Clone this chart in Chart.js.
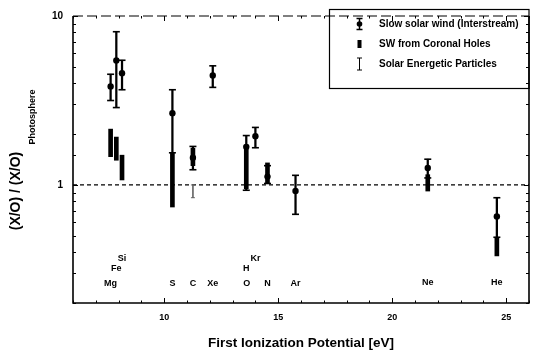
<!DOCTYPE html>
<html><head><meta charset="utf-8">
<script src="https://cdn.jsdelivr.net/npm/chart.js@4.4.0/dist/chart.umd.min.js"></script>
<style>html,body{margin:0;padding:0;background:#fff;}canvas{display:block;}</style>
</head><body>
<canvas id="c" width="541" height="353"></canvas>
<script>
// ---- data ----
const elements   = ['Mg','Fe','Si','S','C','Xe','H','O','Kr','N','Ar','Ne','He'];
const fip        = [7.65,7.90,8.15,10.36,11.26,12.13,13.60,13.62,14.00,14.53,15.76,21.56,24.59];
const labelLevel = [0.262,0.318,0.368,0.262,0.262,0.262,0.318,0.262,0.368,0.262,0.262,0.265,0.265];

const slowEl  = ['Mg','Fe','Si','S','C','Xe','H','Kr','N','Ar','Ne','He'];
const slowVal = [3.83,5.45,4.58,2.66,1.45,4.44,1.68,1.94,1.12,0.92,1.26,0.65];
const slowLo  = [3.16,2.87,3.66,1.55,1.23,3.78,0.93,1.66,1.02,0.67,1.10,0.49];
const slowHi  = [4.52,8.07,5.47,3.66,1.69,5.07,1.96,2.19,1.30,1.14,1.42,0.84];

const holeEl = ['Mg','Fe','Si','S','C','H','N','Ne','He'];
const holeLo = [1.47,1.40,1.07,0.74,1.30,0.95,1.02,0.92,0.38];
const holeHi = [2.14,1.92,1.50,1.55,1.65,1.72,1.35,1.15,0.49];

const sepEl = ['C'];
const sepLo = [0.84];
const sepHi = [1.00];

const xTickLabels = [10,15,20,25];
const yTickLabels = [1,10];
const refValue = 1;
const legendLabels = ['Slow solar wind (Interstream)','SW from Coronal Holes','Solar Energetic Particles'];
const xTitle = 'First Ionization Potential [eV]';
const yTitleMain = '(X/O) / (X/O)';
const yTitleSub = 'Photosphere';

// ---- build ----
const FONT = "'Liberation Sans', Arial, Helvetica, sans-serif";
const fipOf = e => fip[elements.indexOf(e)];
const XMIN = 6, XMAX = 26, YMIN = 0.2, YMAX = 10;

const slowPts  = slowEl.map((e,i)=>({x:fipOf(e), y:slowVal[i]}));
const slowBars = slowEl.map((e,i)=>({x:fipOf(e), y:[slowLo[i], slowHi[i]]}));
const slowCaps = slowEl.flatMap((e,i)=>[{x:fipOf(e), y:slowLo[i]},{x:fipOf(e), y:slowHi[i]}]);
const holeBars = holeEl.map((e,i)=>({x:fipOf(e), y:[holeLo[i], holeHi[i]]}));
const sepBars  = sepEl.map((e,i)=>({x:fipOf(e), y:[sepLo[i], sepHi[i]]}));
const sepCaps  = sepEl.flatMap((e,i)=>[{x:fipOf(e), y:sepLo[i]},{x:fipOf(e), y:sepHi[i]}]);

const near = (v, arr) => arr.some(a => Math.abs(v - a) < 1e-6 * Math.max(1, a));

const decor = {
  id: 'decor',
  afterDatasetsDraw(chart) {
    const {ctx, chartArea: a, scales: {x, y}} = chart;
    const line = (x1,y1,x2,y2)=>{ctx.beginPath();ctx.moveTo(x1,y1);ctx.lineTo(x2,y2);ctx.stroke();};
    ctx.save();
    ctx.strokeStyle = '#000'; ctx.fillStyle = '#000';
    // frame
    ctx.lineWidth = 1.6;
    ctx.beginPath();
    ctx.moveTo(a.left, a.top); ctx.lineTo(a.left, a.bottom); ctx.lineTo(a.right, a.bottom); ctx.lineTo(a.right, a.top);
    ctx.stroke();
    ctx.lineWidth = 1.2; ctx.setLineDash([10,4]);
    line(a.left, a.top, a.right, a.top);
    ctx.setLineDash([]);
    // inward ticks
    ctx.lineWidth = 1;
    x.ticks.forEach(t => {
      const px = Math.round(x.getPixelForValue(t.value)) + 0.5;
      const len = (t.value % 5 === 0) ? 5 : 2.5;
      line(px, a.bottom, px, a.bottom - len);
      line(px, a.top, px, a.top + len);
    });
    y.ticks.forEach(t => {
      const py = Math.round(y.getPixelForValue(t.value)) + 0.5;
      const len = near(t.value, yTickLabels) ? 5 : 3;
      line(a.left, py, a.left + len, py);
      line(a.right, py, a.right - len, py);
    });
    // element labels
    ctx.font = `bold 9px ${FONT}`;
    ctx.textAlign = 'center'; ctx.textBaseline = 'middle';
    elements.forEach((e,i) => {
      ctx.fillText(e, x.getPixelForValue(fip[i]), y.getPixelForValue(labelLevel[i]));
    });
    // legend
    const lx = 329.5, ly = 9.5, lw = a.right - lx, lh = 79;
    ctx.lineWidth = 1.2;
    ctx.strokeRect(lx, ly, lw, lh);
    const sx = 359.5, rows = [24, 44, 64];
    // row 1: point with error bar
    ctx.lineWidth = 1.5;
    line(sx, rows[0]-5.5, sx, rows[0]+5.5);
    line(sx-3, rows[0]-5.5, sx+3, rows[0]-5.5);
    line(sx-3, rows[0]+5.5, sx+3, rows[0]+5.5);
    ctx.beginPath(); ctx.arc(sx, rows[0], 2.8, 0, Math.PI*2); ctx.fill();
    // row 2: thick bar
    ctx.fillRect(sx-2, rows[1]-4, 4, 8);
    // row 3: I-bar
    ctx.lineWidth = 1;
    line(sx, rows[2]-6, sx, rows[2]+6);
    line(sx-2.5, rows[2]-6, sx+2.5, rows[2]-6);
    line(sx-2.5, rows[2]+6, sx+2.5, rows[2]+6);
    ctx.font = `bold 10px ${FONT}`;
    ctx.textAlign = 'left'; ctx.textBaseline = 'middle';
    legendLabels.forEach((t,i) => ctx.fillText(t, 379, rows[i]));
    // y title
    ctx.save();
    ctx.translate(16, 191);
    ctx.rotate(-Math.PI/2);
    ctx.font = `bold 14px ${FONT}`;
    ctx.textAlign = 'center'; ctx.textBaseline = 'middle';
    ctx.fillText(yTitleMain, 0, 0);
    ctx.restore();
    ctx.save();
    ctx.translate(33, 117);
    ctx.rotate(-Math.PI/2);
    ctx.font = `bold 9px ${FONT}`;
    ctx.textAlign = 'center'; ctx.textBaseline = 'middle';
    ctx.fillText(yTitleSub, 0, 0);
    ctx.restore();
    ctx.restore();
  }
};

new Chart(document.getElementById('c'), {
  type: 'bar',
  data: {
    datasets: [
      { type: 'line', data: [{x:XMIN,y:refValue},{x:XMAX,y:refValue}], borderColor:'#000', borderWidth:1.2,
        borderDash:[4,3], pointRadius:0, order: 10 },
      { type: 'bar', data: holeBars, backgroundColor:'#000', barThickness:4, grouped:false, order: 5 },
      { type: 'bar', data: slowBars, backgroundColor:'#000', barThickness:1.6, grouped:false, order: 4 },
      { type: 'bar', data: sepBars, backgroundColor:'#666', barThickness:1, grouped:false, order: 4 },
      { type: 'scatter', data: slowCaps, pointStyle:'line', pointRadius:3.5, borderColor:'#000', borderWidth:1.6, order: 3 },
      { type: 'scatter', data: sepCaps, pointStyle:'line', pointRadius:2, borderColor:'#666', borderWidth:1, order: 3 },
      { type: 'scatter', data: slowPts, pointStyle:'circle', pointRadius:3.2, backgroundColor:'#000', borderColor:'#000', borderWidth:0, order: 1 }
    ]
  },
  options: {
    responsive: false,
    animation: false,
    devicePixelRatio: 1,
    layout: { padding: { top: 10, right: 12, left: 0, bottom: 0 } },
    plugins: { legend: { display: false }, tooltip: { enabled: false } },
    scales: {
      x: {
        type: 'linear', min: XMIN, max: XMAX, offset: false,
        grid: { display: false, drawTicks: false, tickLength: 0, offset: false },
        border: { display: false },
        ticks: { stepSize: 1, autoSkip: false, maxRotation: 0, padding: 9,
          color: '#000', font: { family: FONT, size: 9, weight: 'bold' },
          callback: v => near(v, xTickLabels) ? String(v) : '' },
        title: { display: true, text: xTitle, color:'#000', font: { family: FONT, size: 13.5, weight: 'bold' },
          padding: { top: 0, bottom: 2 } },
        afterFit: s => { s.height = 50; }
      },
      y: {
        type: 'logarithmic', min: YMIN, max: YMAX,
        grid: { display: false, drawTicks: false, tickLength: 0 },
        border: { display: false },
        ticks: { autoSkip: false, padding: 10, color: '#000', font: { family: FONT, size: 10, weight: 'bold' },
          callback: v => near(v, yTickLabels) ? String(v) : '' },
        afterFit: s => { s.width = 73; }
      }
    }
  },
  plugins: [decor]
});
</script>
</body></html>
